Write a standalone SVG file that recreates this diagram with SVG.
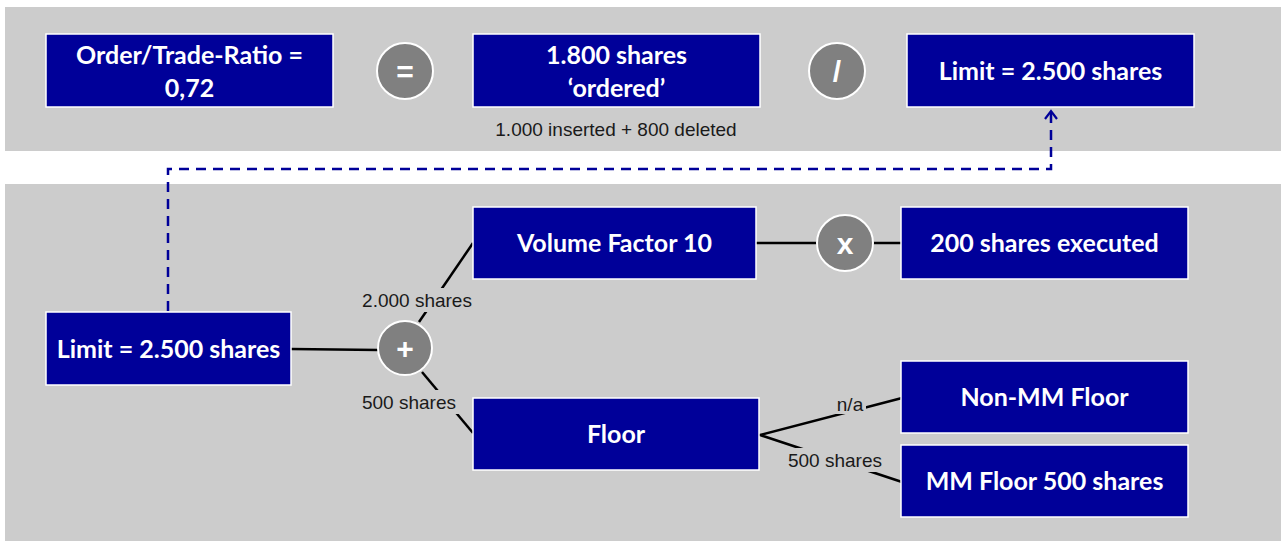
<svg xmlns="http://www.w3.org/2000/svg" width="1281" height="543" viewBox="0 0 1281 543">
<defs>
<style>
.panel{fill:#cccccc}
.box{fill:#000099;stroke:#ffffff;stroke-width:1.5}
.bt{fill:#ffffff;font-family:Lato,"Liberation Sans",sans-serif;font-weight:bold;font-size:25px;text-anchor:middle}
.op{fill:#808080;stroke:#ffffff;stroke-width:2}
.ot{fill:#ffffff;font-family:"Liberation Sans",Arial,sans-serif;font-weight:bold;font-size:30px;text-anchor:middle}
.lbl{fill:#1a1a1a;font-family:"Liberation Sans",Arial,sans-serif;font-size:19px;text-anchor:middle}
.ln{stroke:#000000;stroke-width:2.5;fill:none}
.dash{stroke:#000099;stroke-width:2.5;fill:none;stroke-dasharray:10,7}
</style>
</defs>
<rect x="0" y="0" width="1281" height="543" fill="#ffffff"/>
<rect class="panel" x="5" y="7" width="1276" height="144"/>
<rect class="panel" x="5" y="184" width="1276" height="357"/>

<g id="connectors">
<path class="dash" d="M168,311 V169 H1051 V112"/>
<path d="M1045,119 L1051,111 L1057,119" stroke="#000099" stroke-width="2.2" fill="none"/>
<line class="ln" x1="291" y1="349" x2="379" y2="350"/>
<line class="ln" x1="419" y1="322" x2="473" y2="243"/>
<line class="ln" x1="422" y1="372" x2="473" y2="433"/>
<line class="ln" x1="756" y1="243" x2="818" y2="243"/>
<line class="ln" x1="872" y1="243" x2="901" y2="243"/>
<polyline class="ln" points="902,398 760,435 902,482"/>
<rect x="358" y="288" width="118" height="24" fill="#cccccc"/>
<rect x="358" y="390" width="102" height="24" fill="#cccccc"/>
<rect x="834" y="392" width="32" height="22" fill="#cccccc"/>
<rect x="784" y="448" width="104" height="24" fill="#cccccc"/>
<text class="lbl" x="417" y="307">2.000 shares</text>
<text class="lbl" x="409" y="409">500 shares</text>
<text class="lbl" x="850" y="411">n/a</text>
<text class="lbl" x="835" y="467">500 shares</text>
</g>

<g id="ratio">
<rect class="box" x="46" y="34" width="287" height="73"/>
<text class="bt" x="189.5" y="64">Order/Trade-Ratio =</text>
<text class="bt" x="189.5" y="97">0,72</text>
</g>
<g id="op-eq">
<circle class="op" cx="405" cy="71" r="28"/>
<text class="ot" x="405" y="82">=</text>
</g>
<g id="ordered">
<rect class="box" x="473" y="34" width="287" height="73"/>
<text class="bt" x="616.5" y="64">1.800 shares</text>
<text class="bt" x="616.5" y="97">‘ordered’</text>
<text class="lbl" x="616" y="136">1.000 inserted + 800 deleted</text>
</g>
<g id="op-div">
<circle class="op" cx="837" cy="71" r="28"/>
<text class="ot" x="837" y="82">/</text>
</g>
<g id="limit-top">
<rect class="box" x="907" y="34" width="287" height="73"/>
<text class="bt" x="1050.5" y="80">Limit = 2.500 shares</text>
</g>

<g id="limit-bottom">
<rect class="box" x="46" y="312" width="245" height="73"/>
<text class="bt" x="168.5" y="358">Limit = 2.500 shares</text>
</g>
<g id="op-plus">
<circle class="op" cx="405" cy="348" r="27"/>
<text class="ot" x="405" y="359">+</text>
</g>
<g id="volume">
<rect class="box" x="473" y="207" width="283" height="72"/>
<text class="bt" x="614.5" y="252">Volume Factor 10</text>
</g>
<g id="op-mul">
<circle class="op" cx="845" cy="243" r="28"/>
<text class="ot" x="845" y="254">x</text>
</g>
<g id="executed">
<rect class="box" x="901" y="207" width="287" height="72"/>
<text class="bt" x="1044.5" y="252">200 shares executed</text>
</g>
<g id="floor">
<rect class="box" x="473" y="398" width="286" height="72"/>
<text class="bt" x="616" y="443">Floor</text>
</g>
<g id="nonmm">
<rect class="box" x="901" y="361" width="287" height="72"/>
<text class="bt" x="1044.5" y="406">Non-MM Floor</text>
</g>
<g id="mm">
<rect class="box" x="901" y="445" width="287" height="72"/>
<text class="bt" x="1044.5" y="490">MM Floor 500 shares</text>
</g>
</svg>
